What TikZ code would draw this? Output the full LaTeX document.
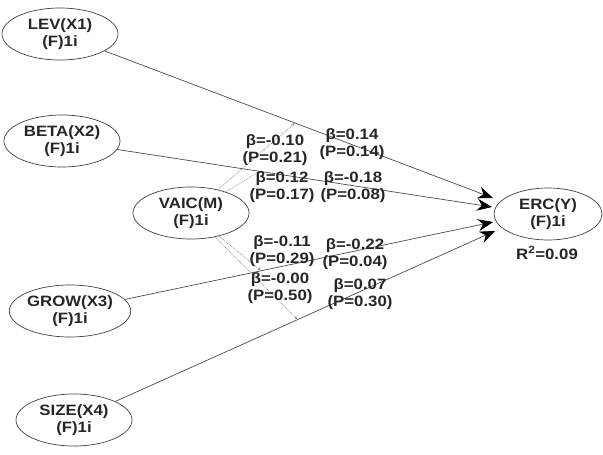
\documentclass[tikz,border=0pt]{standalone}
\usepackage{fontspec}
\setmainfont[FakeStretch=1.12]{Liberation Sans}
\usetikzlibrary{shapes.geometric,arrows.meta}
\tikzset{
  var/.style={ellipse,draw=black!75,line width=0.7pt,minimum width=116pt,minimum height=52pt,inner sep=0pt,align=center,font=\fontsize{15}{17.5}\selectfont\bfseries,text=black!85},
  lbl/.style={align=center,inner sep=0pt,font=\fontsize{15}{17}\selectfont\bfseries,text=black!85},
  arr/.style={draw=black!70,line width=0.7pt,-{Stealth[length=15pt,width=12pt,color=black]}},
  mod/.style={draw=black!40,line width=0.8pt,densely dotted,-{Stealth[length=4pt,width=3pt]}}
}
\begin{document}
\begin{tikzpicture}[x=1pt,y=-1pt]
\useasboundingbox (0,0) rectangle (603,455);
\node[var] (lev) at (60,34) {LEV(X1)\\(F)1i};
\node[var] (beta) at (62,141) {BETA(X2)\\(F)1i};
\node[var] (vaic) at (191,213) {VAIC(M)\\(F)1i};
\node[var] (grow) at (70,311) {GROW(X3)\\(F)1i};
\node[var] (size) at (74,420) {SIZE(X4)\\(F)1i};
\node[var,minimum width=108pt] (erc) at (548,214) {ERC(Y)\\(F)1i};
\node[lbl] (r2) at (547,253) {R\textsuperscript{2}=0.09};

\coordinate (t1) at (493,198);
\coordinate (t2) at (492,207);
\coordinate (t3) at (493,222);
\coordinate (t4) at (495,231);

\draw[arr] (lev) -- coordinate[pos=0.49] (m1) (t1);
\draw[arr] (beta) -- coordinate[pos=0.38] (m2) (t2);
\draw[arr] (grow) -- coordinate[pos=0.37] (m3) (t3);
\draw[arr] (size) -- coordinate[pos=0.48] (m4) (t4);

\draw[mod] (vaic) -- (m1);
\draw[mod] (vaic) -- (m2);
\draw[mod] (vaic) -- (m3);
\draw[mod] (vaic) -- (m4);

\node[lbl] (l1) at (275,150) {β=-0.10\\(P=0.21)};
\node[lbl] (l2) at (352,144) {β=0.14\\(P=0.14)};
\node[lbl] (l3) at (282,187) {β=0.12\\(P=0.17)};
\node[lbl] (l4) at (353,187) {β=-0.18\\(P=0.08)};
\node[lbl] (l5) at (282,251) {β=-0.11\\(P=0.29)};
\node[lbl] (l6) at (355,254) {β=-0.22\\(P=0.04)};
\node[lbl] (l7) at (280,288) {β=-0.00\\(P=0.50)};
\node[lbl] (l8) at (360,294) {β=0.07\\(P=0.30)};
\end{tikzpicture}
\end{document}
